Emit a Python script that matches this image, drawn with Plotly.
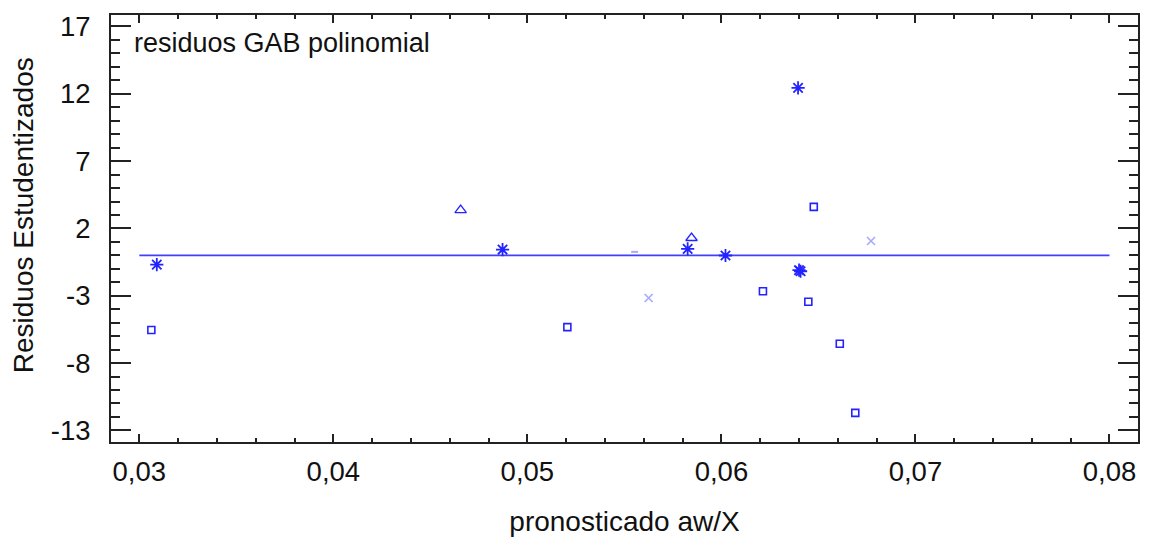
import plotly.graph_objects as go

# Data
star_x = [0.03090, 0.04872, 0.05826, 0.06021, 0.06400, 0.06408, 0.06395]
star_y = [-0.69, 0.43, 0.48, -0.01, -1.10, -1.18, 12.44]

square_x = [0.03062, 0.05206, 0.06214, 0.06448, 0.06610, 0.06690, 0.06476]
square_y = [-5.54, -5.33, -2.66, -3.44, -6.56, -11.70, 3.60]

tri_x = [0.04656, 0.05846]
tri_y = [3.36, 1.29]

cross_x = [0.05625, 0.06771]
cross_y = [-3.17, 1.07]

dash_x = [0.05553]
dash_y = [0.26]

ref_x = [0.03, 0.08]
ref_y = [0, 0]

y_ticks = [-13, -8, -3, 2, 7, 12, 17]
y_labels = ["-13", "-8", "-3", "2", "7", "12", "17"]
x_ticks = [0.03, 0.04, 0.05, 0.06, 0.07, 0.08]
x_labels = ["0,03", "0,04", "0,05", "0,06", "0,07", "0,08"]

BLUE = "#2323ff"
LIGHT = "#a8a8ff"
INK = "#222222"
TXT = "#111111"
FONT = "Liberation Sans, Arial, sans-serif"

fig = go.Figure()
fig.add_trace(go.Scatter(x=ref_x, y=ref_y, mode="lines",
                         line=dict(color="#4040ff", width=1.6), showlegend=False))
fig.add_trace(go.Scatter(x=star_x, y=star_y, mode="markers",
                         marker=dict(symbol="asterisk-open", size=11, color=BLUE,
                                     line=dict(color=BLUE, width=1.8)), showlegend=False))
fig.add_trace(go.Scatter(x=square_x, y=square_y, mode="markers",
                         marker=dict(symbol="square-open", size=7, color=BLUE,
                                     line=dict(color=BLUE, width=1.6)), showlegend=False))
fig.add_trace(go.Scatter(x=tri_x, y=tri_y, mode="markers",
                         marker=dict(symbol="triangle-up-open", size=10, color=BLUE,
                                     line=dict(color=BLUE, width=1.3)), showlegend=False))
fig.add_trace(go.Scatter(x=cross_x, y=cross_y, mode="markers",
                         marker=dict(symbol="x-thin-open", size=8, color=LIGHT,
                                     line=dict(color=LIGHT, width=1.6)), showlegend=False))
fig.add_trace(go.Scatter(x=dash_x, y=dash_y, mode="markers",
                         marker=dict(symbol="line-ew-open", size=5, color=LIGHT,
                                     line=dict(color=LIGHT, width=2)), showlegend=False))

fig.update_layout(
    width=1151, height=543,
    margin=dict(l=111, r=12, t=11, b=99),
    paper_bgcolor="white", plot_bgcolor="white",
    font=dict(family=FONT, size=27.5, color=TXT),
    xaxis=dict(range=[0.02854, 0.08147], tickvals=x_ticks, ticktext=x_labels,
               ticks="inside", ticklen=8, tickwidth=2, tickcolor=INK,
               showline=True, linewidth=2, linecolor=INK, mirror="ticks",
               showgrid=False, zeroline=False,
               minor=dict(dtick=0.002, tick0=0.03, ticks="inside", ticklen=4,
                          tickwidth=2, tickcolor=INK, showgrid=False),
               title=dict(text="pronosticado aw/X", standoff=25,
                          font=dict(family=FONT, size=28, color=TXT)),
               ticklabelstandoff=4),
    yaxis=dict(range=[-13.86, 17.85], tickvals=y_ticks, ticktext=y_labels,
               ticks="inside", ticklen=20, tickwidth=2, tickcolor=INK,
               showline=True, linewidth=2, linecolor=INK, mirror="ticks",
               showgrid=False, zeroline=False,
               minor=dict(dtick=1, tick0=-13, ticks="inside", ticklen=9,
                          tickwidth=2, tickcolor=INK, showgrid=False),
               ticklabelstandoff=13),
    annotations=[
        dict(text="residuos GAB polinomial", xref="paper", yref="paper",
             x=0.020, y=0.935, xanchor="left", yanchor="middle",
             showarrow=False, font=dict(family=FONT, size=27, color=TXT)),
        dict(text="Residuos Estudentizados", xref="paper", yref="paper",
             x=(23 - 111) / 1028, y=1 - (214 - 11) / 433, xanchor="center",
             yanchor="middle", textangle=-90, showarrow=False,
             font=dict(family=FONT, size=28, color=TXT)),
    ],
)

fig.write_html("out.html")
